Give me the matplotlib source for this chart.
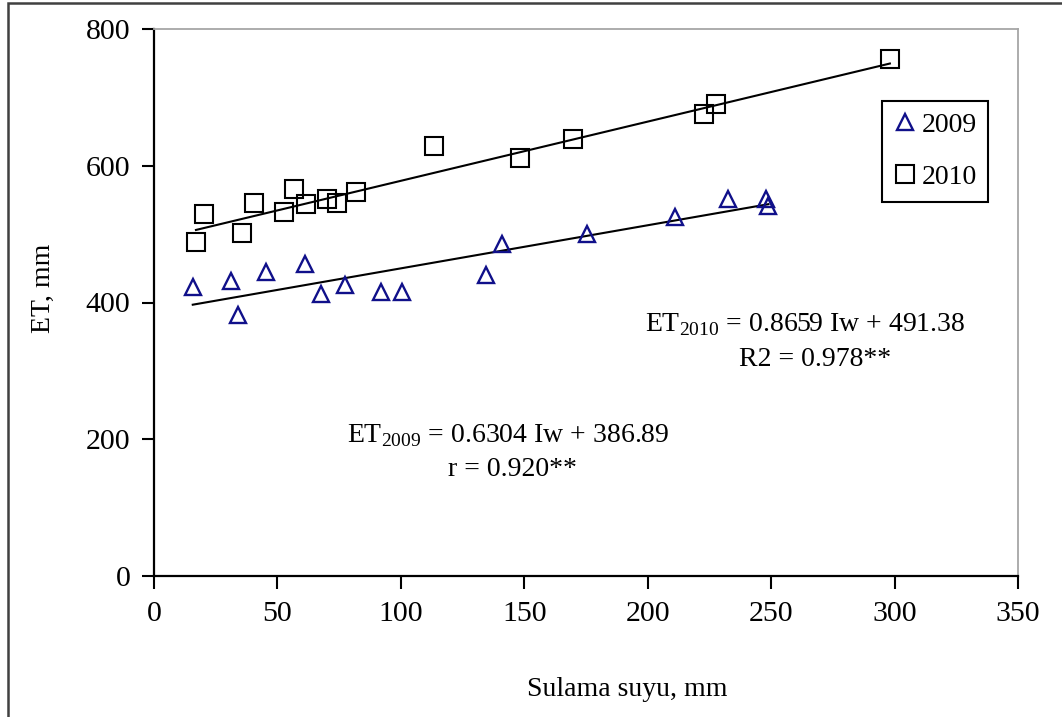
import numpy as np
import matplotlib.pyplot as plt
from matplotlib.patches import Rectangle

plt.rcParams['font.family'] = 'Liberation Serif'
plt.rcParams['mathtext.fontset'] = 'custom'
plt.rcParams['mathtext.rm'] = 'Liberation Serif'

# irrigation water (Iw, mm) and ET (mm)
iw_2009 = [15.7, 31.0, 34.0, 45.4, 61.2, 67.7, 77.4, 92.0, 100.5,
           134.6, 141.1, 175.4, 211.1, 232.6, 248.1, 248.9]
et_2009 = [423, 432, 381, 444, 457, 412, 426, 415, 415,
           440, 486, 500, 525, 552, 552, 541]

iw_2010 = [17.0, 20.2, 35.6, 40.5, 52.6, 56.7, 61.6, 70.1, 74.1,
           81.8, 113.4, 148.2, 169.7, 222.8, 227.6, 298.1]
et_2010 = [488, 530, 502, 545, 533, 566, 544, 551, 545,
           561, 629, 612, 639, 675, 690, 756]

# regression coefficients printed on the chart
slope_2009, icpt_2009 = 0.6304, 386.89
slope_2010, icpt_2010 = 0.8659, 491.38

xticks = [0, 50, 100, 150, 200, 250, 300, 350]
yticks = [0, 200, 400, 600, 800]

W, H = 1062, 717
fig = plt.figure(figsize=(W / 100, H / 100), dpi=100)
ax = fig.add_axes([154 / W, 1 - 576 / H, (1018 - 154) / W, (576 - 29) / H])

navy = '#10108a'

# trend lines
for xs, a, b in [(iw_2009, slope_2009, icpt_2009), (iw_2010, slope_2010, icpt_2010)]:
    xx = np.array([min(xs), max(xs)])
    ax.plot(xx, a * xx + b, color='black', lw=1.5, zorder=2)

ax.plot(iw_2009, et_2009, linestyle='none', marker='^', markersize=11,
        markerfacecolor='none', markeredgecolor=navy, markeredgewidth=1.7,
        label='2009', zorder=3)
ax.plot(iw_2010, et_2010, linestyle='none', marker='s', markersize=13,
        markerfacecolor='none', markeredgecolor='black', markeredgewidth=1.5,
        label='2010', zorder=3)

ax.set_xlim(0, 350)
ax.set_ylim(0, 800)
ax.set_xticks(xticks)
ax.set_yticks(yticks)
ax.tick_params(direction='out', length=9, width=1.5, labelsize=21.5, pad=8)
ax.tick_params(axis='x', pad=9)

for s in ['left', 'bottom']:
    ax.spines[s].set_linewidth(1.6)
    ax.spines[s].set_color('black')
for s in ['top', 'right']:
    ax.spines[s].set_linewidth(1.3)
    ax.spines[s].set_color('#a6a6a6')

fig.text(627 / W, 1 - 690 / H, 'Sulama suyu, mm', fontsize=20, ha='center', va='center')
fig.text(43 / W, 1 - 288 / H, 'ET, mm', fontsize=20, ha='center', va='center', rotation=90)

ax.text(805 / W, 1 - 325 / H, r'ET$_{\mathrm{2010}}$ = 0.8659 Iw + 491.38', fontsize=20,
        ha='center', va='center', transform=fig.transFigure)
ax.text(815 / W, 1 - 360 / H, 'R2 = 0.978**', fontsize=20,
        ha='center', va='center', transform=fig.transFigure)
ax.text(508 / W, 1 - 436 / H, r'ET$_{\mathrm{2009}}$ = 0.6304 Iw + 386.89', fontsize=20,
        ha='center', va='center', transform=fig.transFigure)
ax.text(512 / W, 1 - 470 / H, 'r = 0.920**', fontsize=20,
        ha='center', va='center', transform=fig.transFigure)

leg = ax.legend(loc='upper left', bbox_to_anchor=(882 / W, 1 - 101 / H),
                bbox_transform=fig.transFigure, borderaxespad=0, fontsize=20,
                handlelength=0.8, handletextpad=0.2, labelspacing=0.95,
                borderpad=0.42, fancybox=False, framealpha=1)
leg.get_frame().set_edgecolor('black')
leg.get_frame().set_linewidth(1.5)

# outer chart border
fig.patches.append(Rectangle((8 / W, -0.1), 1.2, 1.1 - 3 / H, transform=fig.transFigure,
                             fill=False, edgecolor='#404040', linewidth=1.8))

fig.savefig('out.png', dpi=100)
